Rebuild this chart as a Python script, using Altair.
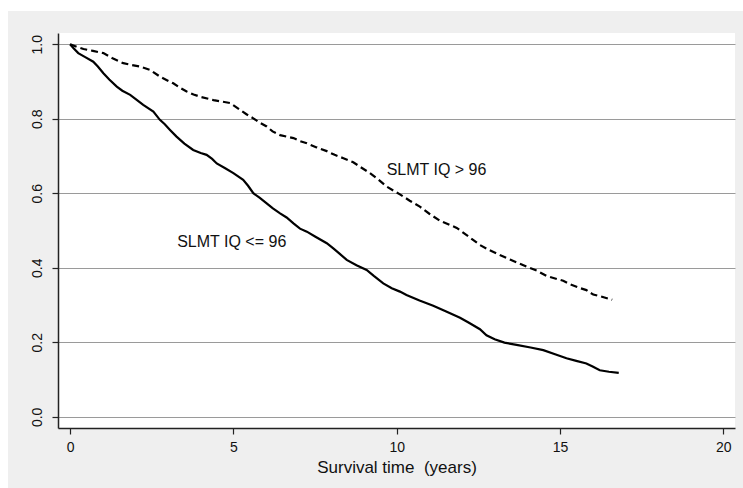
import altair as alt
import pandas as pd

# Kaplan-Meier estimates
low_time = [0.0, 0.1, 0.25, 0.45, 0.71, 0.85, 1.02, 1.2, 1.43, 1.6, 1.84, 2.05, 2.24, 2.55, 2.75, 2.9,
            3.06, 3.26, 3.5, 3.77, 4.0, 4.18, 4.35, 4.49, 4.75, 5.0, 5.3, 5.45, 5.61, 5.8, 6.02, 6.2,
            6.43, 6.63, 6.84, 7.04, 7.25, 7.5, 7.86, 8.06, 8.25, 8.47, 8.77, 9.08, 9.3, 9.59, 9.85,
            10.1, 10.3, 10.7, 11.12, 11.5, 11.94, 12.2, 12.55, 12.75, 13.0, 13.3, 13.67, 14.1, 14.49,
            14.85, 15.2, 15.5, 15.81, 16.0, 16.22, 16.5, 16.8]
low_surv = [1.000, 0.990, 0.976, 0.966, 0.953, 0.940, 0.922, 0.905, 0.886, 0.875, 0.864, 0.850, 0.837,
            0.819, 0.797, 0.785, 0.770, 0.752, 0.733, 0.716, 0.708, 0.703, 0.692, 0.680, 0.667, 0.654,
            0.636, 0.620, 0.600, 0.588, 0.573, 0.560, 0.546, 0.535, 0.519, 0.505, 0.497, 0.484, 0.466,
            0.452, 0.438, 0.421, 0.407, 0.394, 0.378, 0.358, 0.345, 0.336, 0.327, 0.312, 0.298, 0.283,
            0.266, 0.253, 0.235, 0.219, 0.208, 0.199, 0.193, 0.186, 0.179, 0.168, 0.157, 0.150, 0.143,
            0.135, 0.125, 0.121, 0.118]

high_time = [0.0, 0.2, 0.41, 0.7, 1.02, 1.3, 1.63, 1.9, 2.14, 2.45, 2.75, 2.95, 3.16, 3.35, 3.57, 3.78,
             3.98, 4.39, 4.9, 5.2, 5.4, 5.61, 5.8, 6.02, 6.2, 6.43, 6.84, 7.04, 7.25, 7.55, 7.86, 8.1,
             8.37, 8.67, 8.88, 9.18, 9.45, 9.69, 10.1, 10.4, 10.71, 11.0, 11.33, 11.84, 12.2, 12.55,
             12.85, 13.16, 13.47, 13.98, 14.3, 14.59, 15.1, 15.3, 15.6, 15.81, 16.02, 16.22, 16.6]
high_surv = [1.000, 0.993, 0.987, 0.982, 0.976, 0.962, 0.949, 0.944, 0.940, 0.931, 0.913, 0.904, 0.895,
             0.884, 0.873, 0.865, 0.859, 0.850, 0.842, 0.824, 0.812, 0.801, 0.790, 0.779, 0.766, 0.756,
             0.748, 0.740, 0.734, 0.723, 0.713, 0.703, 0.694, 0.683, 0.671, 0.654, 0.636, 0.618, 0.597,
             0.580, 0.564, 0.545, 0.526, 0.507, 0.484, 0.461, 0.447, 0.434, 0.422, 0.403, 0.392, 0.378,
             0.365, 0.356, 0.346, 0.340, 0.328, 0.324, 0.314]

label_text = ["SLMT IQ > 96", "SLMT IQ <= 96"]
label_time = [11.22, 4.95]
label_surv = [0.662, 0.470]

x_ticks = [0, 5, 10, 15, 20]
y_ticks = [0.0, 0.2, 0.4, 0.6, 0.8, 1.0]

FONT = "Liberation Sans"

low = pd.DataFrame({"time": low_time, "surv": low_surv, "group": "low"})
high = pd.DataFrame({"time": high_time, "surv": high_surv, "group": "high"})
labels = pd.DataFrame({"text": label_text, "time": label_time, "surv": label_surv})

xscale = alt.Scale(domain=[-0.37, 20.36], nice=False, zero=False)
yscale = alt.Scale(domain=[-0.03, 1.03], nice=False, zero=False)

xaxis = alt.Axis(values=x_ticks, title="Survival time \u00a0(years)", grid=False, format="d",
                 domain=True, domainColor="#222222", domainWidth=1.5,
                 ticks=True, tickColor="#222222", tickSize=6, tickWidth=1.2,
                 labelFont=FONT, labelFontSize=14, labelColor="#111111", labelPadding=6,
                 titleFont=FONT, titleFontSize=17, titleFontWeight="normal", titleColor="#111111",
                 titlePadding=5, offset=0)
yaxis = alt.Axis(values=y_ticks, title=None, grid=True, gridColor="#9a9a9a", gridWidth=1,
                 format=".1f", domain=True, domainColor="#222222", domainWidth=1.5,
                 ticks=True, tickColor="#222222", tickSize=6, tickWidth=1.2,
                 labelFont=FONT, labelFontSize=14, labelColor="#111111", labelAngle=270,
                 labelAlign="center", labelBaseline="bottom", labelPadding=8)

solid = alt.Chart(low).mark_line(color="black", strokeWidth=2.2).encode(
    x=alt.X("time:Q", scale=xscale, axis=xaxis),
    y=alt.Y("surv:Q", scale=yscale, axis=yaxis),
)

dashed = alt.Chart(high).mark_line(color="black", strokeWidth=2.2, strokeDash=[7, 4]).encode(
    x=alt.X("time:Q", scale=xscale),
    y=alt.Y("surv:Q", scale=yscale),
)

text = alt.Chart(labels).mark_text(font=FONT, fontSize=16, color="#111111", align="center",
                                   baseline="middle").encode(
    x=alt.X("time:Q", scale=xscale),
    y=alt.Y("surv:Q", scale=yscale),
    text="text:N",
)

# white margin strips outside the grey frame (top and left)
strip = pd.DataFrame({"k": [0]})
top_strip = alt.Chart(strip).mark_rect(color="white").encode(
    x=alt.value(-58), x2=alt.value(700), y=alt.value(-33), y2=alt.value(-22))
left_strip = alt.Chart(strip).mark_rect(color="white").encode(
    x=alt.value(-58), x2=alt.value(-50), y=alt.value(-33), y2=alt.value(460))

chart = alt.layer(top_strip, left_strip, solid, dashed, text).properties(
    width=677, height=395,
    background="#efefef",
    padding={"left": 58, "top": 33, "right": 8, "bottom": 60},
    autosize=alt.AutoSizeParams(type="none"),
).configure_view(fill="white", stroke=None)

chart.save("out.html", embed_options={"renderer": "svg", "actions": False})
